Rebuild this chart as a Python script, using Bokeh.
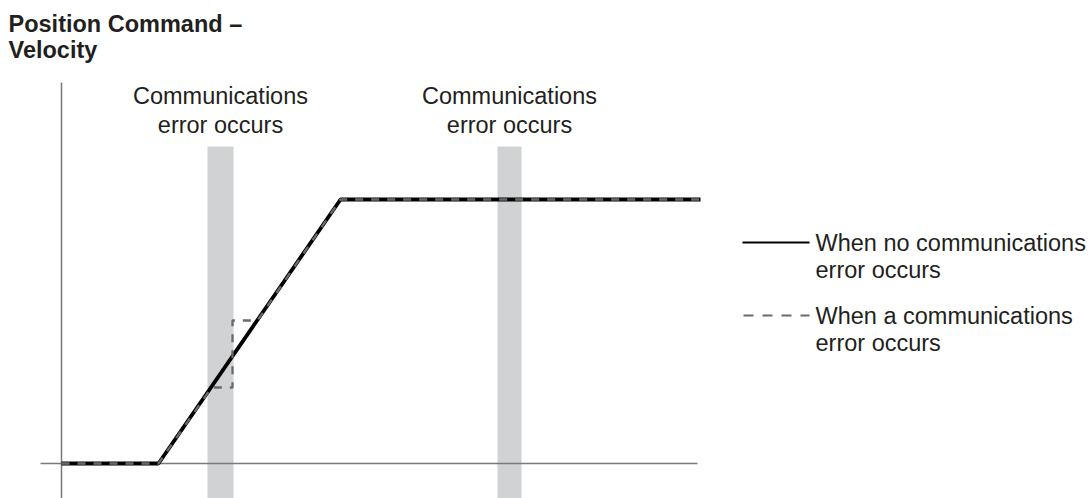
from bokeh.plotting import figure
from bokeh.models import Range1d
from bokeh.core.properties import value
from bokeh.embed import file_html
from bokeh.resources import INLINE

# ---- data (arbitrary time / velocity units) ----
time_normal = [0, 97, 279, 639]
vel_normal = [0, 0, 264, 264]

time_error = [0, 97, 150, 171, 171, 196, 279, 639]
vel_error = [0, 0, 76, 76, 143, 143, 264, 264]

error_starts = [146, 436]
error_ends = [172, 460]
error_labels = ["Communications\nerror occurs", "Communications\nerror occurs"]

legend_labels = ["When no communications\nerror occurs",
                 "When a communications\nerror occurs"]
title_lines = ["Position Command \u2013", "Velocity"]

# ---- layout ----
W, H = 1090, 498
X0, Y0 = -61, -35
p = figure(width=W, height=H, output_backend="svg", toolbar_location=None,
           x_range=Range1d(X0, X0 + W), y_range=Range1d(Y0, Y0 + H),
           x_axis_location=None, y_axis_location=None,
           min_border=0, min_border_left=0, min_border_right=0,
           min_border_top=0, min_border_bottom=0)
p.grid.visible = False
p.outline_line_color = None
p.background_fill_color = "white"
p.border_fill_color = "white"

FONT = value("Liberation Sans")
TXT = "#231f20"

# error bands
p.quad(left=error_starts, right=error_ends, bottom=Y0 - 20, top=317,
       fill_color="#d1d2d4", line_color=None)

# axes lines
p.line([-21, 636], [0, 0], line_color="#7a7a7a", line_width=1.5)
p.line([0, 0], [Y0 - 20, 381], line_color="#7a7a7a", line_width=1.5)

# series
p.line(time_normal, vel_normal, line_color="black", line_width=3.8)
p.line(time_error, vel_error, line_color="#6a6a6a", line_width=2.3,
       line_dash="8 8")

# annotation texts above bands
for s, e, lab in zip(error_starts, error_ends, error_labels):
    cx = (s + e) / 2
    l1, l2 = lab.split("\n")
    p.text(x=[cx, cx], y=[368, 339], text=[l1, l2], text_font=FONT,
           text_font_size="23.5px", text_color=TXT, text_align="center",
           text_baseline="alphabetic")

# legend
p.line([681, 748], [221, 221], line_color="black", line_width=2)
p.line([682, 748], [148, 148], line_color="#6a6a6a", line_width=2,
       line_dash="10 9")
for ly, lab in zip([221, 148], legend_labels):
    l1, l2 = lab.split("\n")
    p.text(x=[754, 754], y=[ly, ly - 27], text=[l1, l2], text_font=FONT,
           text_font_size="23.5px", text_color=TXT, text_align="left",
           text_baseline="middle")

# title
p.text(x=[-53, -53], y=[440, 414], text=title_lines, text_font=FONT,
       text_font_size="23.5px", text_font_style="bold", text_color=TXT,
       text_align="left", text_baseline="alphabetic")

open("out.html", "w").write(file_html(p, INLINE))
